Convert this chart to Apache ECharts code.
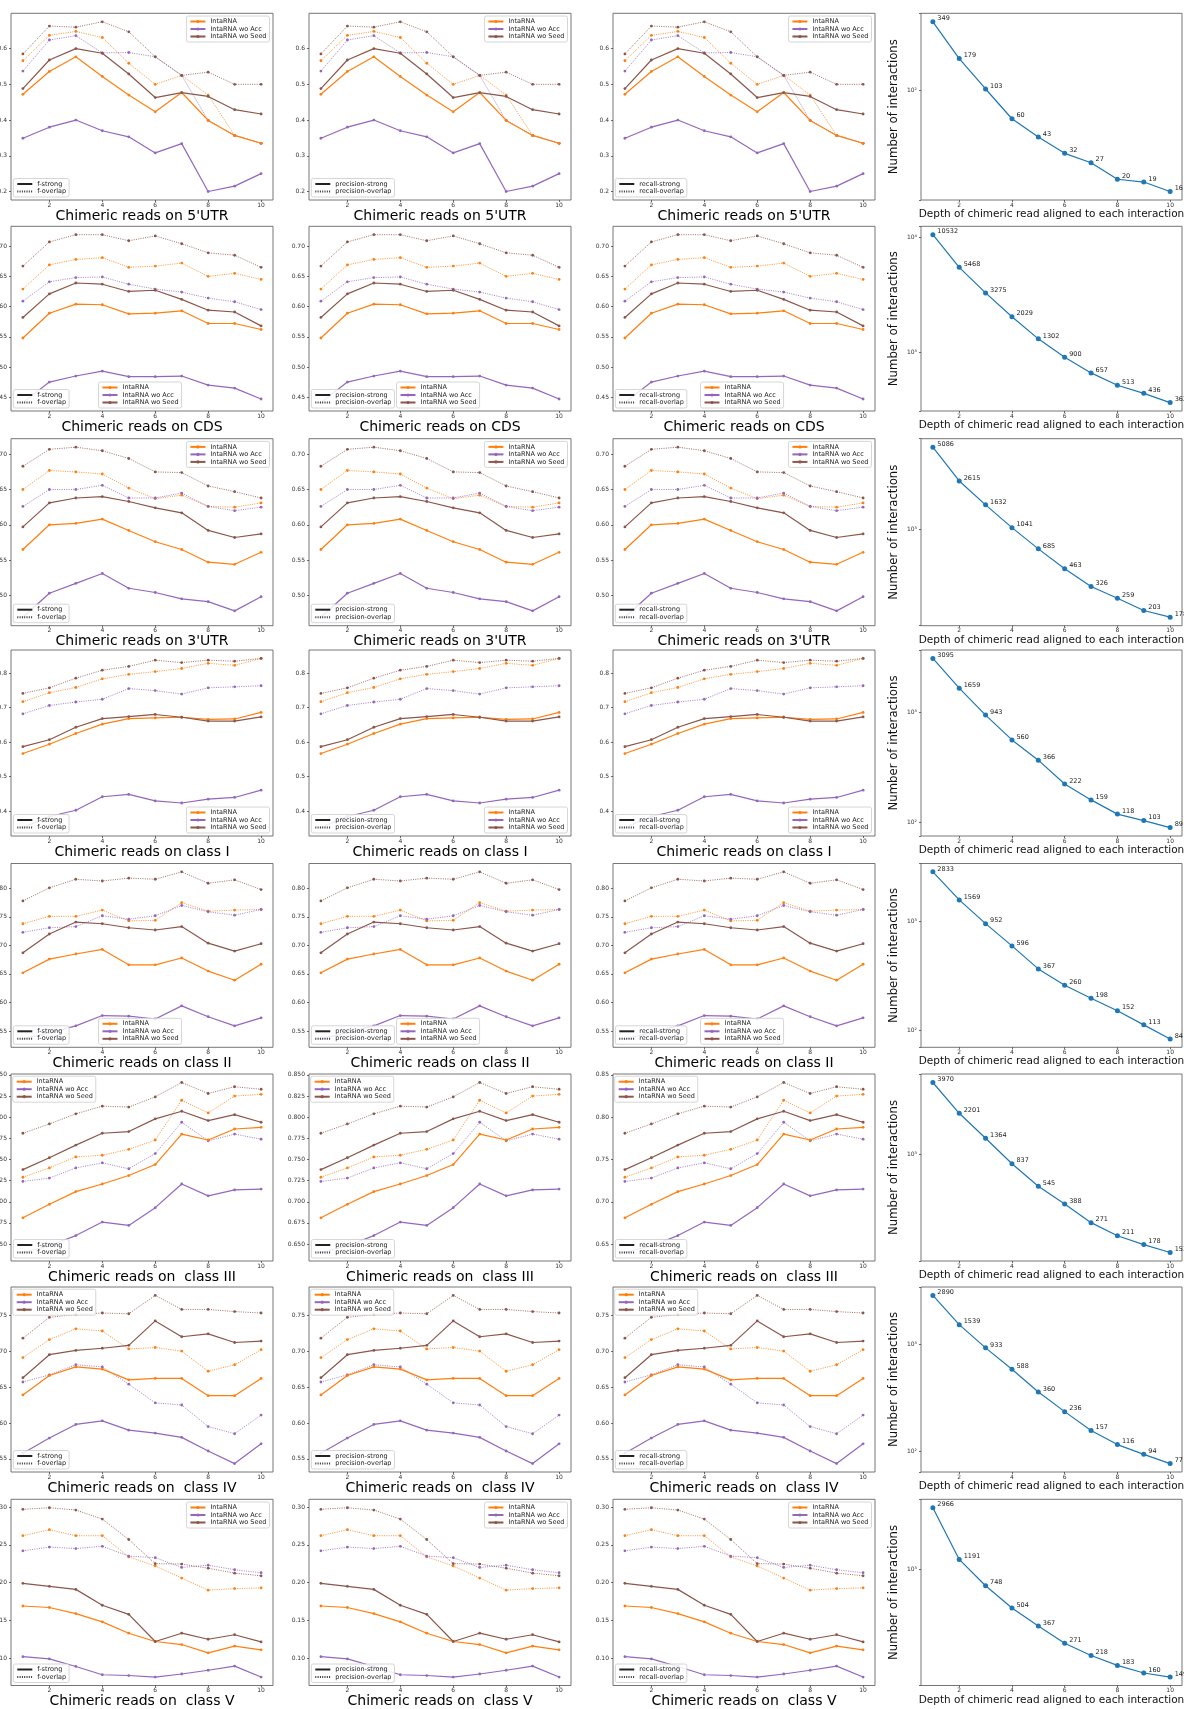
<!DOCTYPE html>
<html><head><meta charset="utf-8">
<script src="https://cdn.jsdelivr.net/npm/echarts@6/dist/echarts.min.js"></script>
<style>html,body{margin:0;padding:0;background:#fff;overflow:hidden}#c{width:1184px;height:1709px}</style>
</head><body><div id="c"></div><script>
// ---------------- DATA ----------------
const xs = [1, 2, 3, 4, 5, 6, 7, 8, 9, 10];
const xTicks = [2, 4, 6, 8, 10];
const models = ['IntaRNA', 'IntaRNA wo Acc', 'IntaRNA wo Seed'];
const metrics = ['f', 'precision', 'recall'];
const rowTitles = ["Chimeric reads on 5'UTR", "Chimeric reads on CDS", "Chimeric reads on 3'UTR",
  "Chimeric reads on class I", "Chimeric reads on class II", "Chimeric reads on  class III",
  "Chimeric reads on  class IV", "Chimeric reads on  class V"];
const depthTitle = 'Depth of chimeric read aligned to each interaction';
const countTitle = 'Number of interactions';

// each panel: [strong IntaRNA, strong woAcc, strong woSeed, overlap IntaRNA, overlap woAcc, overlap woSeed]
const f_5utr = [
  [0.472, 0.536, 0.577, 0.522, 0.470, 0.423, 0.477, 0.399, 0.357, 0.335],
  [0.349, 0.380, 0.400, 0.370, 0.353, 0.308, 0.334, 0.200, 0.215, 0.250],
  [0.488, 0.568, 0.600, 0.587, 0.529, 0.463, 0.477, 0.466, 0.429, 0.417],
  [0.566, 0.637, 0.648, 0.631, 0.559, 0.500, 0.525, 0.470, 0.357, 0.335],
  [0.537, 0.624, 0.636, 0.588, 0.589, 0.577, 0.525, 0.399, 0.357, 0.335],
  [0.585, 0.663, 0.660, 0.675, 0.647, 0.577, 0.525, 0.534, 0.500, 0.500]];
const f_cds = [
  [0.548, 0.589, 0.604, 0.603, 0.588, 0.589, 0.593, 0.572, 0.572, 0.562],
  [0.441, 0.475, 0.485, 0.493, 0.484, 0.484, 0.485, 0.470, 0.465, 0.447],
  [0.582, 0.621, 0.639, 0.637, 0.625, 0.627, 0.612, 0.594, 0.591, 0.568],
  [0.629, 0.669, 0.678, 0.681, 0.665, 0.667, 0.672, 0.650, 0.655, 0.645],
  [0.609, 0.641, 0.648, 0.649, 0.637, 0.629, 0.624, 0.614, 0.608, 0.595],
  [0.667, 0.707, 0.719, 0.719, 0.709, 0.717, 0.704, 0.689, 0.685, 0.665]];
const f_3utr = [
  [0.565, 0.600, 0.602, 0.608, 0.592, 0.576, 0.565, 0.547, 0.544, 0.561],
  [0.469, 0.503, 0.517, 0.531, 0.510, 0.504, 0.495, 0.491, 0.478, 0.498],
  [0.597, 0.631, 0.638, 0.640, 0.633, 0.624, 0.617, 0.592, 0.582, 0.587],
  [0.650, 0.677, 0.675, 0.672, 0.652, 0.637, 0.642, 0.626, 0.625, 0.631],
  [0.626, 0.650, 0.650, 0.656, 0.638, 0.638, 0.645, 0.626, 0.620, 0.625],
  [0.683, 0.707, 0.710, 0.705, 0.694, 0.675, 0.674, 0.655, 0.647, 0.638]];
const f_c1 = [
  [0.567, 0.594, 0.625, 0.652, 0.668, 0.670, 0.672, 0.666, 0.667, 0.686],
  [0.353, 0.385, 0.403, 0.442, 0.449, 0.430, 0.424, 0.435, 0.440, 0.461],
  [0.587, 0.607, 0.643, 0.668, 0.674, 0.680, 0.672, 0.661, 0.661, 0.673],
  [0.717, 0.743, 0.758, 0.783, 0.796, 0.804, 0.813, 0.828, 0.822, 0.842],
  [0.682, 0.706, 0.716, 0.724, 0.755, 0.749, 0.739, 0.757, 0.760, 0.763],
  [0.741, 0.757, 0.785, 0.808, 0.819, 0.837, 0.830, 0.837, 0.834, 0.842]];
const f_c2 = [
  [0.652, 0.676, 0.685, 0.693, 0.666, 0.666, 0.678, 0.655, 0.639, 0.667],
  [0.536, 0.547, 0.559, 0.577, 0.576, 0.571, 0.594, 0.575, 0.559, 0.573],
  [0.687, 0.720, 0.741, 0.738, 0.731, 0.727, 0.733, 0.704, 0.690, 0.703],
  [0.738, 0.751, 0.751, 0.762, 0.743, 0.744, 0.775, 0.760, 0.762, 0.763],
  [0.723, 0.731, 0.733, 0.752, 0.746, 0.752, 0.770, 0.759, 0.753, 0.763],
  [0.778, 0.801, 0.816, 0.813, 0.818, 0.816, 0.829, 0.809, 0.815, 0.798]];
const f_c3 = [
  [0.681, 0.697, 0.712, 0.721, 0.731, 0.744, 0.780, 0.773, 0.786, 0.788],
  [0.640, 0.648, 0.660, 0.676, 0.672, 0.693, 0.721, 0.707, 0.714, 0.715],
  [0.738, 0.752, 0.767, 0.781, 0.783, 0.798, 0.807, 0.796, 0.803, 0.794],
  [0.729, 0.740, 0.753, 0.755, 0.762, 0.773, 0.820, 0.805, 0.825, 0.827],
  [0.724, 0.728, 0.740, 0.746, 0.739, 0.757, 0.794, 0.772, 0.780, 0.774],
  [0.781, 0.792, 0.804, 0.813, 0.812, 0.824, 0.841, 0.828, 0.836, 0.833]];
const f_c4 = [
  [0.639, 0.666, 0.678, 0.675, 0.660, 0.662, 0.662, 0.638, 0.638, 0.662],
  [0.558, 0.579, 0.598, 0.603, 0.590, 0.586, 0.580, 0.561, 0.5435, 0.571],
  [0.663, 0.695, 0.701, 0.704, 0.708, 0.742, 0.720, 0.724, 0.712, 0.714],
  [0.691, 0.716, 0.731, 0.728, 0.703, 0.705, 0.700, 0.672, 0.681, 0.702],
  [0.657, 0.667, 0.681, 0.678, 0.654, 0.628, 0.625, 0.595, 0.585, 0.611],
  [0.718, 0.747, 0.751, 0.753, 0.752, 0.7775, 0.758, 0.758, 0.755, 0.753]];
const f_c5 = [
  [0.169, 0.167, 0.159, 0.148, 0.133, 0.122, 0.118, 0.107, 0.116, 0.111],
  [0.102, 0.099, 0.089, 0.078, 0.077, 0.075, 0.079, 0.084, 0.0895, 0.075],
  [0.199, 0.195, 0.191, 0.170, 0.158, 0.122, 0.133, 0.125, 0.131, 0.1215],
  [0.262, 0.270, 0.262, 0.262, 0.234, 0.222, 0.206, 0.190, 0.192, 0.193],
  [0.242, 0.247, 0.245, 0.248, 0.235, 0.233, 0.220, 0.223, 0.217, 0.213],
  [0.297, 0.299, 0.296, 0.284, 0.257, 0.225, 0.2245, 0.219, 0.2125, 0.209]];

// precision and recall panels (read as matching the F panels)
const p_5utr = f_5utr, p_cds = f_cds, p_3utr = f_3utr, p_c1 = f_c1, p_c2 = f_c2, p_c3 = f_c3, p_c4 = f_c4, p_c5 = f_c5;
const r_5utr = f_5utr, r_cds = f_cds, r_3utr = f_3utr, r_c1 = f_c1, r_c2 = f_c2, r_c3 = f_c3, r_c4 = f_c4, r_c5 = f_c5;

// y tick labels per row (F and precision columns)
const yTicksFP = [
  ['0.2', '0.3', '0.4', '0.5', '0.6'],
  ['0.45', '0.50', '0.55', '0.60', '0.65', '0.70'],
  ['0.50', '0.55', '0.60', '0.65', '0.70'],
  ['0.4', '0.5', '0.6', '0.7', '0.8'],
  ['0.55', '0.60', '0.65', '0.70', '0.75', '0.80'],
  ['0.650', '0.675', '0.700', '0.725', '0.750', '0.775', '0.800', '0.825', '0.850'],
  ['0.55', '0.60', '0.65', '0.70', '0.75'],
  ['0.10', '0.15', '0.20', '0.25', '0.30']];
// y tick labels per row (recall column)
const yTicksR = [
  ['0.2', '0.3', '0.4', '0.5', '0.6'],
  ['0.45', '0.50', '0.55', '0.60', '0.65', '0.70'],
  ['0.50', '0.55', '0.60', '0.65', '0.70'],
  ['0.4', '0.5', '0.6', '0.7', '0.8'],
  ['0.55', '0.60', '0.65', '0.70', '0.75', '0.80'],
  ['0.65', '0.70', '0.75', '0.80', '0.85'],
  ['0.55', '0.60', '0.65', '0.70', '0.75'],
  ['0.10', '0.15', '0.20', '0.25', '0.30']];

// interaction counts per depth
const n_5utr = [349, 179, 103, 60, 43, 32, 27, 20, 19, 16];
const n_cds = [10532, 5468, 3275, 2029, 1302, 900, 657, 513, 436, 362];
const n_3utr = [5086, 2615, 1632, 1041, 685, 463, 326, 259, 203, 178];
const n_c1 = [3095, 1659, 943, 560, 366, 222, 159, 118, 103, 89];
const n_c2 = [2833, 1569, 952, 596, 367, 260, 198, 152, 113, 84];
const n_c3 = [3970, 2201, 1364, 837, 545, 388, 271, 211, 178, 153];
const n_c4 = [2890, 1539, 933, 588, 360, 236, 157, 116, 94, 77];
const n_c5 = [2966, 1191, 748, 504, 367, 271, 218, 183, 160, 149];

const panels = [
  [f_5utr, p_5utr, r_5utr, n_5utr], [f_cds, p_cds, r_cds, n_cds], [f_3utr, p_3utr, r_3utr, n_3utr],
  [f_c1, p_c1, r_c1, n_c1], [f_c2, p_c2, r_c2, n_c2], [f_c3, p_c3, r_c3, n_c3],
  [f_c4, p_c4, r_c4, n_c4], [f_c5, p_c5, r_c5, n_c5]];
const tickSets = [yTicksFP, yTicksFP, yTicksR];

// ---------------- LAYOUT / STYLE ----------------
const W = 1184, H = 1709;
const FONT = 'DejaVu Sans';
const colors = ['#ff7f0e', '#9467bd', '#8c564b'];
const colLeft = [11, 309, 613, 921];
const colW = [262, 262, 262, 261];
const rowTop = [13.3, 226.3, 438.7, 650, 863.5, 1074, 1287, 1499.3];
const rowBot = [200, 411, 625.7, 836, 1047.3, 1261, 1472, 1685.5];
const modelLegendPos = ['tr', 'bc', 'tr', 'br', 'bc', 'tl', 'tl', 'tr'];
const sup = {0: '⁰', 1: '¹', 2: '²', 3: '³', 4: '⁴', 5: '⁵'};

const option = {animation: false, backgroundColor: '#fff', grid: [], xAxis: [], yAxis: [], series: [], legend: []};

const legendBase = {
  orient: 'vertical', itemWidth: 15, itemHeight: 4, itemGap: 0.5, padding: [2, 3, 2, 3],
  selectedMode: false, backgroundColor: 'rgba(255,255,255,0.85)', borderColor: '#cccccc',
  borderWidth: 0.8, borderRadius: 2,
  textStyle: {fontSize: 6.5, lineHeight: 7, color: '#222', fontFamily: FONT}
};

for (let r = 0; r < 8; r++) {
  for (let c = 0; c < 4; c++) {
    const g = option.grid.length;
    const left = colLeft[c], top = rowTop[r], width = colW[c], height = rowBot[r] - rowTop[r];
    option.grid.push({left, top, width, height, containLabel: false, outerBoundsMode: 'none',
      show: true, borderColor: '#666', borderWidth: 0.9, backgroundColor: 'rgba(0,0,0,0)'});
    const isCount = c === 3;
    option.xAxis.push({
      gridIndex: g, type: 'value', min: 0.55, max: 10.45,
      splitLine: {show: false}, axisLine: {show: false},
      axisTick: {customValues: xTicks, length: 2, lineStyle: {color: '#444', width: 0.8}},
      axisLabel: {customValues: xTicks, fontSize: 6, margin: 2, color: '#333', fontFamily: FONT},
      name: isCount ? depthTitle : rowTitles[r], nameLocation: 'middle',
      nameGap: isCount ? 1 : 5,
      nameTextStyle: isCount ? {fontSize: 10.5, fontFamily: FONT, color: '#111'} : {fontSize: 14, fontFamily: FONT, color: '#000'}
    });
    if (!isCount) {
      const data = panels[r][c];
      const all = data.flat();
      const mn = Math.min(...all), mx = Math.max(...all), pad = 0.05 * (mx - mn);
      const labels = tickSets[c][r];
      const vals = labels.map(Number);
      option.yAxis.push({
        gridIndex: g, type: 'value', min: mn - pad, max: mx + pad,
        splitLine: {show: false}, axisLine: {show: false},
        axisTick: {customValues: vals, length: 2, lineStyle: {color: '#444', width: 0.8}},
        axisLabel: {customValues: vals, fontSize: 6, margin: 4, color: '#333', fontFamily: FONT,
          formatter: v => { const s = labels.find(t => Math.abs(Number(t) - v) < 1e-9); return s || ''; }}
      });
      for (let k = 0; k < 6; k++) {
        const m = k % 3, overlap = k >= 3;
        option.series.push({
          type: 'line', name: overlap ? models[m] + ' overlap' : models[m],
          xAxisIndex: g, yAxisIndex: g,
          data: xs.map((x, i) => [x, data[k][i]]),
          symbol: 'circle', symbolSize: 2.8,
          lineStyle: {color: colors[m], width: overlap ? 1 : 1.2, type: overlap ? [1, 1.3] : 'solid', opacity: overlap ? 0.85 : 1},
          itemStyle: {color: colors[m]}, z: overlap ? 2 : 3
        });
      }
      const met = metrics[c];
      option.series.push({type: 'line', name: met + '-strong', xAxisIndex: g, yAxisIndex: g, data: [],
        symbol: 'circle', lineStyle: {color: '#222', width: 1.2}, itemStyle: {color: '#222', opacity: 0}});
      option.series.push({type: 'line', name: met + '-overlap', xAxisIndex: g, yAxisIndex: g, data: [],
        symbol: 'circle', lineStyle: {color: '#333', width: 1, type: [1, 1.3]}, itemStyle: {color: '#333', opacity: 0}});
      // legends
      const pos = modelLegendPos[r];
      const lg = Object.assign({}, legendBase, {data: models});
      if (pos === 'tr') { lg.right = W - (left + width - 3.5); lg.top = top + 2.7; }
      else if (pos === 'tl') { lg.left = left + 1.7; lg.top = top + 2.2; }
      else if (pos === 'br') { lg.right = W - (left + width - 3.5); lg.bottom = H - (top + height - 3); }
      else { lg.left = left + width / 2 - 43.5; lg.bottom = H - (top + height - 3); }
      option.legend.push(lg);
      option.legend.push(Object.assign({}, legendBase, {data: [met + '-strong', met + '-overlap'],
        left: left + 2.3, bottom: H - (top + height - 3)}));
    } else {
      const counts = panels[r][3];
      const lmin = Math.log10(Math.min(...counts)), lmax = Math.log10(Math.max(...counts));
      const ls = lmax - lmin;
      option.yAxis.push({
        gridIndex: g, type: 'log', logBase: 10,
        min: Math.pow(10, lmin - 0.05 * ls), max: Math.pow(10, lmax + 0.05 * ls),
        splitLine: {show: false}, axisLine: {show: false},
        axisTick: {length: 2, lineStyle: {color: '#444', width: 0.8}},
        axisLabel: {fontSize: 6, margin: 4, color: '#333', fontFamily: FONT,
          formatter: v => { const l = Math.log10(v), e = Math.round(l); return Math.abs(l - e) < 1e-6 ? '10' + sup[e] : ''; }},
        name: countTitle, nameLocation: 'middle', nameGap: 21, nameRotate: 90,
        nameTextStyle: {fontFamily: "'DejaVu Sans Condensed', 'Liberation Sans Narrow', 'DejaVu Sans', sans-serif", fontSize: 13, color: '#111'}
      });
      option.series.push({
        type: 'line', name: 'interactions', xAxisIndex: g, yAxisIndex: g,
        data: xs.map((x, i) => [x, counts[i]]),
        symbol: 'circle', symbolSize: 5,
        lineStyle: {color: '#1f77b4', width: 1.2}, itemStyle: {color: '#1f77b4'},
        label: {show: true, position: 'right', distance: 2, offset: [0, -3], fontSize: 6.5, color: '#222', fontFamily: FONT,
          formatter: p => String(p.value[1])}
      });
    }
  }
}

const chart = echarts.init(document.getElementById('c'), null, {renderer: 'canvas', width: W, height: H});
chart.setOption(option);
</script></body></html>
